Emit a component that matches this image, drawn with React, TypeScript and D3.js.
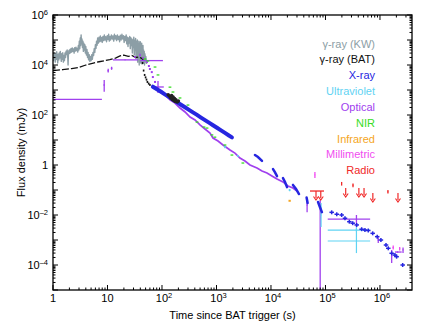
import React from 'react';
import * as d3 from 'd3';

// gamma-ray (KW) light curve: [time s, flux mJy]
const kwCurve: number[][] = [
  [1.0, 2.5e4], [1.02, 1.5e4], [1.04, 3.2e4], [1.06, 1.8e4], [1.08, 2.6e4], [1.1, 1.3e4], [1.12, 2.9e4],
  [1.15, 1.7e4], [1.17, 3.4e4], [1.2, 2.0e4], [1.22, 1.2e4], [1.25, 2.7e4], [1.28, 1.6e4], [1.3, 3.0e4],
  [1.33, 1.9e4], [1.36, 3.5e4], [1.39, 2.2e4], [1.42, 1.4e4], [1.45, 2.8e4], [1.48, 1.7e4], [1.51, 3.1e4],
  [1.55, 1.3e4], [1.58, 2.4e4], [1.62, 1.5e4], [1.66, 3.0e4], [1.7, 2.0e4], [1.74, 3.6e4], [1.78, 2.6e4],
  [1.82, 4.0e4], [1.86, 2.4e4], [1.89, 1.0e4], [1.92, 2.8e4], [1.96, 3.8e4], [2.0, 2.9e4], [2.05, 4.2e4],
  [2.1, 3.1e4], [2.15, 4.6e4], [2.2, 3.3e4], [2.26, 4.8e4], [2.32, 3.5e4], [2.38, 4.4e4], [2.44, 3.0e4],
  [2.5, 4.9e4], [2.57, 3.6e4], [2.64, 5.2e4], [2.71, 3.8e4], [2.78, 4.6e4], [2.85, 3.3e4], [2.92, 6.0e4],
  [2.98, 4.0e4], [3.04, 9.0e4], [3.1, 4.5e4], [3.16, 1.2e5], [3.22, 6.0e4], [3.28, 1.6e5], [3.34, 7.0e4],
  [3.4, 1.1e5], [3.47, 5.0e4], [3.54, 9.0e4], [3.61, 3.5e4], [3.68, 7.5e4], [3.76, 4.0e4], [3.84, 6.5e4],
  [3.92, 3.0e4], [4.0, 5.5e4], [4.1, 2.5e4], [4.2, 4.2e4], [4.3, 2.0e4], [4.4, 3.2e4], [4.5, 1.6e4],
  [4.62, 2.6e4], [4.74, 1.4e4], [4.86, 2.2e4], [5.0, 1.5e4], [5.14, 2.6e4], [5.28, 1.7e4], [5.42, 3.2e4],
  [5.56, 2.4e4], [5.7, 4.5e4], [5.85, 3.2e4], [6.0, 6.5e4], [6.15, 4.6e4], [6.3, 9.0e4], [6.45, 6.2e4],
  [6.6, 1.2e5], [6.8, 7.5e4], [7.0, 1.3e5], [7.2, 8.5e4], [7.4, 1.45e5], [7.6, 9.0e4], [7.8, 1.25e5],
  [8.0, 8.0e4], [8.25, 1.4e5], [8.5, 9.5e4], [8.75, 1.6e5], [9.0, 1.0e5], [9.3, 1.35e5], [9.6, 8.5e4],
  [9.9, 1.5e5], [10.2, 1.05e5], [10.5, 1.7e5], [10.8, 9.0e4], [11.1, 1.4e5], [11.4, 1.0e5], [11.8, 1.6e5],
  [12.2, 1.1e5], [12.6, 1.45e5], [13.0, 9.0e4], [13.4, 1.7e5], [13.8, 1.1e5], [14.2, 1.5e5], [14.7, 9.5e4],
  [15.2, 1.6e5], [15.7, 1.05e5], [16.2, 1.4e5], [16.7, 8.5e4], [17.2, 1.55e5], [17.8, 1.0e5], [18.4, 1.7e5],
  [19.0, 1.1e5], [19.6, 1.5e5], [20.2, 8.0e4], [20.8, 1.4e5], [21.4, 9.5e4], [22.0, 1.6e5], [22.6, 7.0e4],
  [23.2, 1.3e5], [23.8, 5.5e4], [24.4, 1.2e5], [25.0, 7.5e4], [25.6, 1.4e5], [26.2, 4.5e4], [26.8, 1.25e5],
  [27.4, 6.0e4], [28.0, 1.1e5], [28.6, 3.0e4], [29.2, 1.0e5], [29.8, 5.0e4], [30.4, 1.3e5], [31.0, 2.5e4],
  [31.6, 9.5e4], [32.2, 4.0e4], [32.8, 1.15e5], [33.4, 1.8e4], [34.0, 8.5e4], [34.6, 3.5e4], [35.2, 1.0e5],
  [35.8, 1.3e4], [36.4, 7.0e4], [37.0, 2.5e4], [37.6, 9.0e4], [38.2, 1.0e4], [38.8, 6.0e4], [39.4, 2.0e4],
  [40.0, 8.5e4], [40.6, 1.2e4], [41.2, 6.5e4], [41.8, 2.2e4], [42.4, 7.5e4], [43.0, 1.1e4], [43.6, 5.0e4],
  [44.2, 1.8e4], [44.8, 6.0e4], [45.4, 1.2e4], [46.0, 4.0e4], [46.6, 1.5e4], [47.2, 3.5e4], [47.8, 1.0e4],
  [48.6, 2.8e4], [49.5, 1.3e4], [50.5, 2.2e4], [52, 1.1e4],
];

// gamma-ray (BAT)
const batCurve: number[][] = [
  [1, 6.0e3], [1.5, 6.5e3], [2.2, 7.2e3], [3, 8.0e3], [4, 1.0e4], [5.5, 1.2e4], [7, 1.35e4], [9, 1.5e4],
  [11, 1.65e4], [14, 1.9e4], [17, 2.3e4], [20, 2.5e4], [24, 2.2e4], [28, 2.4e4], [33, 2.0e4], [38, 2.1e4],
  [43, 1.8e4], [46, 1.5e4],
];
const batTail: number[][] = [
  [44, 1.2e4], [46, 6.0e3], [48, 4.0e3], [50, 3.2e3], [52, 2.6e3], [54, 2.1e3], [57, 1.8e3], [60, 1.6e3],
];
const batClump: number[][] = [
  [130, 650], [138, 560], [145, 480], [150, 600], [155, 420], [160, 520], [165, 380], [170, 450],
  [175, 350], [180, 410], [190, 330], [200, 360],
];

// X-ray
const xrayEarly: number[][] = [
  [68, 1355], [81, 1067], [96, 847], [113, 667], [134, 530], [159, 417], [188, 328], [223, 258],
  [264, 205], [313, 161], [370, 127], [439, 101], [520, 79], [615, 62.5], [728, 49.7], [863, 39.1],
  [1020, 30.8], [1210, 24.2], [1430, 19.2], [1690, 15.1], [1920, 12.7],
];
const xrayMid: number[][][] = [
  [[5080, 2.5], [5770, 2.09], [6840, 1.45]],
  [[1.09e4, 0.69], [1.18e4, 0.52], [1.29e4, 0.36]],
  [[1.66e4, 0.30], [1.81e4, 0.21], [1.97e4, 0.13]],
  [[2.53e4, 0.16], [2.88e4, 0.11], [3.27e4, 0.069]],
  [[4.5e4, 0.05], [4.7e4, 0.03]],
  [[7.3e4, 0.033], [7.9e4, 0.021], [8.6e4, 0.013]],
];
const xrayLate: number[][] = [
  [1.3e5, 0.0128], [1.61e5, 0.0107], [1.98e5, 0.010], [2.28e5, 0.0074], [2.74e5, 0.0054], [3.16e5, 0.0047],
  [3.74e5, 0.004], [4.61e5, 0.0027], [5.3e5, 0.0025], [6.1e5, 0.0024], [7.35e5, 0.00185], [8.9e5, 0.00136],
  [1.04e6, 0.001], [1.29e6, 6.3e-4], [1.42e6, 4.66e-4], [1.64e6, 2.94e-4], [1.88e6, 2.5e-4], [2.02e6, 2.15e-4],
  [2.61e6, 1.0e-4],
];

// Optical: [t, f, tLo, tHi, fLo, fHi]
const opticalBars: number[][] = [
  [2.9, 425, 0.5, 7.9, 410, 440],
  [8.7, 1585, 8.4, 9.0, 855, 2500],
  [10.3, 5900, 10.0, 10.6, 5000, 7000],
  [11.9, 7400, 11.5, 12.3, 6400, 8500],
  [21, 1.6e4, 12.6, 36, 1.55e4, 1.65e4],
  [70, 1.5e4, 40, 104, 1.45e4, 1.55e4],
  [32, 2.1e4, 31, 33, 1.9e4, 2.3e4],
  [39.5, 2.5e4, 38.5, 40.5, 2.2e4, 2.8e4],
  [45, 1.9e4, 44, 46, 1.7e4, 2.1e4],
  [84.5, 1320, 65.5, 108, 760, 2300],
  [4.6e4, 0.025, 4.5e4, 4.7e4, 0.013, 0.048],
  [8.0e4, 0.02, 7.8e4, 8.2e4, 1e-6, 0.04],
  [3.7e5, 0.0069, 1.1e5, 6.6e5, 0.0033, 0.01],
  [9.3e5, 0.001, 9.0e5, 9.6e5, 7.6e-4, 0.0013],
  [1.64e6, 2.3e-4, 1.6e6, 1.68e6, 1.2e-4, 4e-4],
  [2.1e6, 3.3e-4, 1.88e6, 2.5e6, 3.1e-4, 3.5e-4],
  [2.65e6, 4e-4, 2.6e6, 2.7e6, 3e-4, 5e-4],
];
const opticalFall: number[][] = [
  [53, 1.32e4], [57.5, 9.1e3], [60, 6.9e3], [65, 5.2e3], [68, 3.3e3], [74.5, 2.1e3],
];
const opticalDecay: number[][] = [
  [104, 760], [124, 525], [140, 400], [173, 300], [214, 190], [265, 132], [327, 83], [404, 63], [498, 40],
  [615, 27.5], [760, 19], [863, 12], [1066, 9.1], [1316, 6.3], [1770, 4], [2183, 3.0], [2696, 1.9],
  [3333, 1.45], [4120, 1.0], [5540, 0.76], [6840, 0.575], [8450, 0.48], [1.04e4, 0.363], [1.29e4, 0.275],
  [1.66e4, 0.21], [2.05e4, 0.145], [2.53e4, 0.12], [3.0e4, 0.091],
];

// Ultraviolet
const uvBars: number[][] = [
  [3.7e5, 0.0025, 1.1e5, 6.6e5, 0.0022, 0.0029],
  [3.7e5, 9.1e-4, 1.1e5, 6.6e5, 3e-4, 0.0033],
  [8.3e4, 0.01, 8.1e4, 8.5e4, 0.0033, 0.03],
  [2.2e4, 0.1, 2.1e4, 2.3e4, 0.09, 0.11],
  [1430, 5.2, 1380, 1480, 4.7, 5.7],
  [2470, 2.3, 2400, 2550, 2.1, 2.5],
];

// NIR
const nirPts: number[][] = [
  [48.6, 1.74e4], [55, 1.45e4], [74.5, 8.3e3], [84.5, 4e3], [140, 1.3e3], [159, 830], [214, 480],
  [300, 250], [439, 52], [590, 33], [670, 30], [825, 16], [935, 13], [1430, 6.3], [1920, 2.5], [3050, 1.2],
];

// Infrared
const irPts: number[][] = [[2.2e4, 0.037]];

// Millimetric
const mmBars: number[][] = [
  [6.4e4, 0.4, 6.3e4, 6.5e4, 0.3, 0.525],
  [1.75e6, 5e-4, 1.7e6, 1.8e6, 4.2e-4, 6e-4],
  [2.3e6, 4.5e-4, 2.25e6, 2.35e6, 3.8e-4, 5.3e-4],
];

// Radio: upper limits and detections
const radioLimits: number[][] = [
  [6.7e4, 0.091], [8.2e4, 0.091], [2.35e5, 0.12], [4.1e5, 0.12], [5.1e5, 0.12], [7.4e5, 0.076], [2.14e6, 0.076],
];
const radioLimitBar = [5.2e4, 9.4e4, 0.091];
const radioBars: number[][] = [
  [1.98e5, 0.18, 1.95e5, 2.01e5, 0.15, 0.21],
  [3.2e5, 0.155, 3.15e5, 3.25e5, 0.13, 0.18],
  [1.4e6, 0.085, 1.38e6, 1.42e6, 0.072, 0.1],
];

const legendLabels = ['γ-ray (KW)', 'γ-ray (BAT)', 'X-ray', 'Ultraviolet', 'Optical', 'NIR', 'Infrared', 'Millimetric', 'Radio'];
const legendColors = ['#8c9ea6', '#111111', '#2626e0', '#5fd3f3', '#a040ee', '#38dc24', '#f5a623', '#f04cf0', '#f02828'];

const xExps = [0, 1, 2, 3, 4, 5, 6];
const yExps = [6, 4, 2, 0, -2, -4];

const W = 431;
const H = 333;
const L = 53, R = 412, T = 15, B = 290;

export default function App() {
  const x = d3.scaleLog().domain([1, 3.87e6]).range([L, R]);
  const y = d3.scaleLog().domain([1e-5, 1e6]).range([B, T]);
  const [cKW, cBAT, cX, cUV, cOpt, cNIR, cIR, cMM, cRad] = legendColors;
  const font = 'Liberation Sans, Arial, Helvetica, sans-serif';

  const line = d3.line<number[]>().x(d => x(d[0])).y(d => y(d[1]));

  const errBar = (r: number[], color: string, sw: number, key: string) => {
    const [t, f, tLo, tHi, fLo, fHi] = r;
    return (
      <g key={key} stroke={color} strokeWidth={sw}>
        <line x1={x(tLo)} x2={x(tHi)} y1={y(f)} y2={y(f)} />
        <line x1={x(t)} x2={x(t)} y1={y(fLo)} y2={y(fHi)} />
      </g>
    );
  };

  // axis ticks
  const xMajor = d3.range(0, 7).map(e => Math.pow(10, e));
  const xMinor: number[] = [];
  d3.range(0, 7).forEach(e => d3.range(2, 10).forEach(k => {
    const v = k * Math.pow(10, e);
    if (v < 3.87e6) xMinor.push(v);
  }));
  const yMajor = d3.range(-5, 7).map(e => Math.pow(10, e));
  const yMinor: number[] = [];
  d3.range(-5, 6).forEach(e => d3.range(2, 10).forEach(k => yMinor.push(k * Math.pow(10, e))));

  const ticks: JSX.Element[] = [];
  xMajor.forEach((v, i) => {
    ticks.push(<line key={'xb' + i} x1={x(v)} x2={x(v)} y1={B} y2={B - 5} />);
    ticks.push(<line key={'xt' + i} x1={x(v)} x2={x(v)} y1={T} y2={T + 5} />);
  });
  xMinor.forEach((v, i) => {
    ticks.push(<line key={'xbm' + i} x1={x(v)} x2={x(v)} y1={B} y2={B - 2.5} />);
    ticks.push(<line key={'xtm' + i} x1={x(v)} x2={x(v)} y1={T} y2={T + 2.5} />);
  });
  yMajor.forEach((v, i) => {
    ticks.push(<line key={'yl' + i} x1={L} x2={L + 5} y1={y(v)} y2={y(v)} />);
    ticks.push(<line key={'yr' + i} x1={R} x2={R - 5} y1={y(v)} y2={y(v)} />);
  });
  yMinor.forEach((v, i) => {
    ticks.push(<line key={'ylm' + i} x1={L} x2={L + 2.5} y1={y(v)} y2={y(v)} />);
    ticks.push(<line key={'yrm' + i} x1={R} x2={R - 2.5} y1={y(v)} y2={y(v)} />);
  });

  const powLabel = (e: number) =>
    e === 0 ? '1' : e === 1 ? '10' : null;

  return (
    <svg width={W} height={H} style={{ position: 'absolute', left: 0, top: 0, background: '#fff' }} fontFamily={font}>
      <defs>
        <clipPath id="plot">
          <rect x={L} y={T} width={R - L} height={B - T} />
        </clipPath>
      </defs>

      <g clipPath="url(#plot)" fill="none">
        {/* gamma-ray KW */}
        <path d={line(kwCurve) || ''} stroke={cKW} strokeWidth={1.4} strokeLinejoin="round" />
        {/* gamma-ray BAT */}
        <path d={line(batCurve) || ''} stroke={cBAT} strokeWidth={1.3} strokeDasharray="7 2" />
        {batTail.map((d, i) => (
          <rect key={'bt' + i} x={x(d[0]) - 0.8} y={y(d[1]) - 1} width={1.6} height={2} fill={cBAT} stroke="none" />
        ))}

        {/* optical */}
        {opticalBars.map((r, i) => errBar(r, cOpt, 1.3, 'ob' + i))}
        {opticalFall.map((d, i) => (
          <rect key={'of' + i} x={x(d[0]) - 1} y={y(d[1]) - 1} width={2} height={2} fill={cOpt} stroke="none" />
        ))}
        <path d={line(opticalDecay) || ''} stroke={cOpt} strokeWidth={1.7} />

        {/* NIR */}
        {nirPts.map((d, i) => (
          <line key={'n' + i} x1={x(d[0] / 1.06)} x2={x(d[0] * 1.06)} y1={y(d[1])} y2={y(d[1])} stroke={cNIR} strokeWidth={1.3} />
        ))}

        {/* UV */}
        {uvBars.map((r, i) => errBar(r, cUV, 1.2, 'uv' + i))}

        {/* X-ray */}
        <path d={line(xrayEarly) || ''} stroke={cX} strokeWidth={4} strokeLinecap="round" />
        {xrayMid.map((seg, i) => (
          <path key={'xm' + i} d={line(seg) || ''} stroke={cX} strokeWidth={2.5} strokeLinecap="round" />
        ))}
        {xrayLate.map((d, i) =>
          errBar([d[0], d[1], d[0] / 1.1, d[0] * 1.1, d[1] / 1.2, d[1] * 1.2], cX, 1.5, 'xl' + i)
        )}

        {/* BAT points that overlap the X-ray band */}
        {batClump.map((d, i) => (
          <circle key={'bc' + i} cx={x(d[0])} cy={y(d[1])} r={1.8} fill="#222" stroke="none" />
        ))}

        {/* infrared */}
        {irPts.map((d, i) => (
          <line key={'ir' + i} x1={x(d[0] / 1.05)} x2={x(d[0] * 1.05)} y1={y(d[1])} y2={y(d[1])} stroke={cIR} strokeWidth={2} />
        ))}

        {/* millimetric */}
        {mmBars.map((r, i) => errBar(r, cMM, 1.3, 'mm' + i))}

        {/* radio */}
        <line x1={x(radioLimitBar[0])} x2={x(radioLimitBar[1])} y1={y(radioLimitBar[2])} y2={y(radioLimitBar[2])} stroke={cRad} strokeWidth={1.3} />
        {radioLimits.map((d, i) => {
          const px = x(d[0]);
          const py = y(d[1]);
          return (
            <g key={'rl' + i}>
              <line x1={px} x2={px} y1={py} y2={py + 7} stroke={cRad} strokeWidth={1.2} />
              <path d={`M${px - 2.5},${py + 5.5} L${px},${py + 9} L${px + 2.5},${py + 5.5}`} stroke={cRad} strokeWidth={1.1} fill="none" />
            </g>
          );
        })}
        {radioBars.map((r, i) => errBar(r, cRad, 1.3, 'rb' + i))}
      </g>

      {/* frame and ticks */}
      <g stroke="#000" strokeWidth={1}>{ticks}</g>
      <rect x={L} y={T} width={R - L} height={B - T} fill="none" stroke="#000" strokeWidth={1.3} />

      {/* x tick labels */}
      <g fontSize={11} fill="#000">
        {xExps.map(e => {
          const lbl = powLabel(e);
          return lbl ? (
            <text key={'xl' + e} x={x(Math.pow(10, e))} y={302} textAnchor="middle">{lbl}</text>
          ) : (
            <text key={'xl' + e} x={x(Math.pow(10, e)) + 2} y={302} textAnchor="middle">
              10<tspan fontSize={7.5} dy={-4.5}>{e}</tspan>
            </text>
          );
        })}
      </g>

      {/* y tick labels */}
      <g fontSize={11} fill="#000">
        {yExps.map(e => {
          const lbl = powLabel(e);
          return lbl ? (
            <text key={'yl' + e} x={48} y={y(Math.pow(10, e)) + 4} textAnchor="end">{lbl}</text>
          ) : (
            <text key={'yl' + e} x={48} y={y(Math.pow(10, e)) + 4} textAnchor="end">
              10<tspan fontSize={7.5} dy={-4.5}>{e < 0 ? '–' + (-e) : String(e)}</tspan>
            </text>
          );
        })}
      </g>

      {/* axis titles */}
      <text x={(L + R) / 2} y={319} textAnchor="middle" fontSize={11}>Time since BAT trigger (s)</text>
      <text transform={`translate(25, ${(T + B) / 2}) rotate(-90)`} textAnchor="middle" fontSize={11}>Flux density (mJy)</text>

      {/* legend */}
      <g fontSize={11} textAnchor="end">
        {legendLabels.map((lbl, i) => (
          <text key={'lg' + i} x={375} y={47.5 + i * 15.85} fill={legendColors[i]}>{lbl}</text>
        ))}
      </g>
    </svg>
  );
}
